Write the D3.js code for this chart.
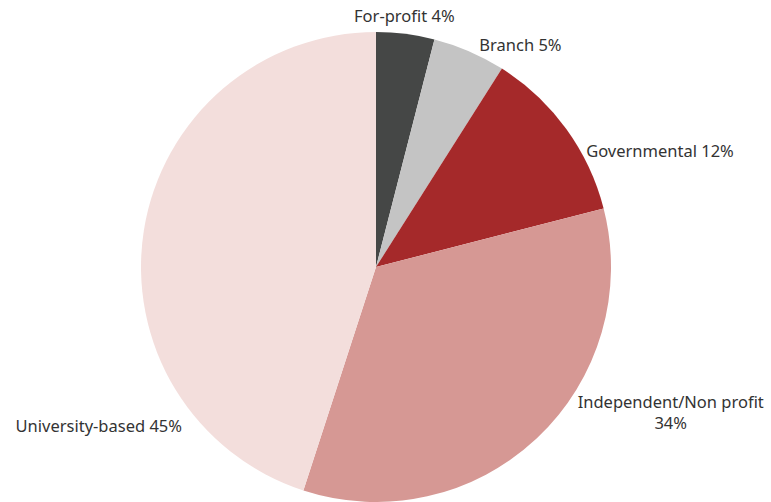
<!DOCTYPE html>
<html>
<head>
<meta charset="utf-8">
<script src="https://cdn.jsdelivr.net/npm/d3@7"></script>
<style>
  body { margin: 0; background: #fff; }
  text { font-family: "Noto Sans", "Open Sans", sans-serif; font-size: 16.5px; fill: #333; }
</style>
</head>
<body>
<svg id="chart" width="771" height="502"></svg>
<script>
const categories = ["For-profit", "Branch", "Governmental", "Independent/Non profit", "University-based"];
const shares = [4, 5, 12, 34, 45];
const colors = ["#454746", "#c4c4c4", "#a5292a", "#d69894", "#f3dedc"];

// label placement: distance from centre along the slice middle, then a nudge
const labelLayout = [
  { r: 250, dx: -3, dy: 3, anchor: "middle" },
  { r: 240, dx: 8, dy: 4, anchor: "start" },
  { r: 240, dx: 16, dy: 31, anchor: "start" },
  { r: 245, dx: 127, dy: -38, anchor: "middle" },
  { r: 245, dx: 48, dy: 203, anchor: "end" }
];

const cx = 376, cy = 267, radius = 235;
const data = categories.map((c, i) => ({ name: c, value: shares[i], color: colors[i], lay: labelLayout[i] }));

const svg = d3.select("#chart");
const g = svg.append("g").attr("transform", `translate(${cx},${cy})`);

const pie = d3.pie().sort(null).value(d => d.value);
const arc = d3.arc().innerRadius(0).outerRadius(radius);
const arcs = pie(data);

g.selectAll("path")
  .data(arcs)
  .join("path")
  .attr("d", arc)
  .attr("fill", d => d.data.color);

const labels = g.selectAll("text.lbl")
  .data(arcs)
  .join("text")
  .attr("class", "lbl")
  .attr("text-anchor", d => d.data.lay.anchor)
  .attr("transform", d => {
    const a = (d.startAngle + d.endAngle) / 2;
    const l = d.data.lay;
    return `translate(${Math.sin(a) * l.r + l.dx},${-Math.cos(a) * l.r + l.dy})`;
  });

labels.each(function(d) {
  const t = d3.select(this);
  if (d.data.name.length > 20) {
    t.append("tspan").attr("x", 0).attr("y", 0).text(d.data.name);
    t.append("tspan").attr("x", 0).attr("y", 21).text(d.data.value + "%");
  } else {
    t.text(`${d.data.name} ${d.data.value}%`);
  }
});
</script>
</body>
</html>
